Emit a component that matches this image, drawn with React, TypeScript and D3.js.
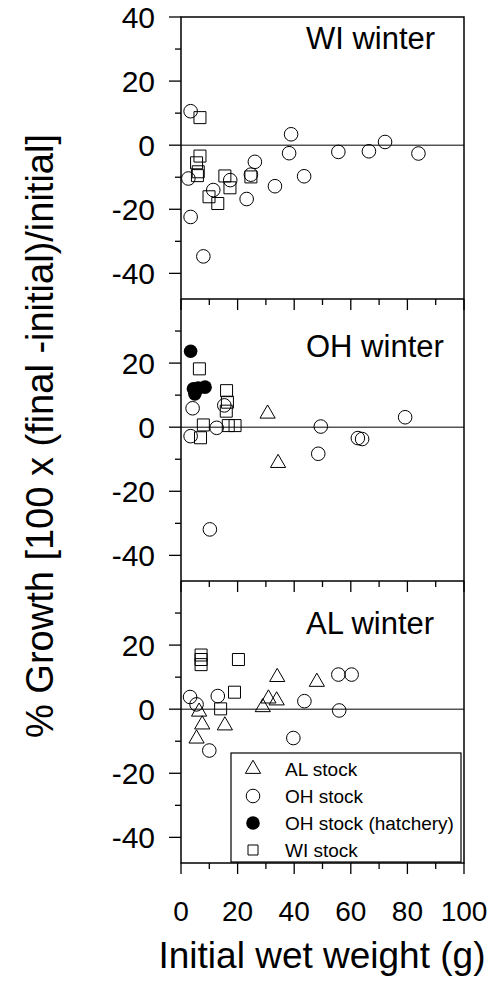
import React from 'react';
import * as d3 from 'd3';

type Pt = [number, number];

// [initial wet weight (g), % growth]
const wiWinterOH: Pt[] = [
	[3.4, 10.6], [2.6, -10.4], [3.4, -22.4], [7.9, -34.7], [11.4, -14], [17.4, -10.9],
	[23.2, -16.8], [24.7, -9.2], [26.1, -5.2], [33.2, -12.8], [38.2, -2.5], [38.9, 3.4],
	[43.5, -9.7], [55.6, -2.1], [66.4, -1.9], [72.1, 1.0], [83.9, -2.6],
];
const wiWinterWI: Pt[] = [
	[6.7, 8.6], [6.7, -3.4], [5.5, -5.5], [6.1, -8.3], [5.8, -9.5], [9.9, -16.1],
	[13, -18.2], [15.5, -9.6], [17.3, -13.3], [24.7, -9.9],
];

const ohWinterAL: Pt[] = [[30.6, 4.2], [34.3, -11.2]];
const ohWinterOH: Pt[] = [
	[4.1, 5.9], [3.4, -2.8], [12.6, -0.2], [15.3, 6.8], [10.2, -31.9], [49.4, 0.2],
	[48.5, -8.3], [62.5, -3.4], [64, -3.7], [79.2, 3.1],
];
const ohWinterHatchery: Pt[] = [[3.4, 23.7], [4.4, 12], [6.1, 12.2], [8.5, 12.5], [4.9, 10.4]];
const ohWinterWI: Pt[] = [
	[6.5, 18.2], [7.9, 0.7], [6.9, -3.3], [16.1, 11.4], [16.4, 7.8], [16.0, 5.0],
	[16.7, 0.5], [19.1, 0.5],
];

const alWinterAL: Pt[] = [
	[6.4, -0.8], [7.5, -4.8], [5.5, -9.2], [15.5, -5.1], [34, 10], [28.9, 0.6],
	[30.9, 3.3], [33.8, 2.7], [48, 8.5],
];
const alWinterOH: Pt[] = [
	[3.2, 3.8], [5.5, 1.5], [13, 4.1], [10, -12.9], [43.6, 2.5], [39.7, -9],
	[55.9, -0.4], [55.6, 10.8], [60.3, 10.8],
];
const alWinterWI: Pt[] = [[7.1, 16.9], [7.1, 15.5], [7.1, 13.9], [20.3, 15.5], [18.9, 5.3], [14, 0.1]];

const panelTitles = ['WI winter', 'OH winter', 'AL winter'];
const panelData = [
	{ al: [] as Pt[], oh: wiWinterOH, hatch: [] as Pt[], wi: wiWinterWI },
	{ al: ohWinterAL, oh: ohWinterOH, hatch: ohWinterHatchery, wi: ohWinterWI },
	{ al: alWinterAL, oh: alWinterOH, hatch: [] as Pt[], wi: alWinterWI },
];
const legendLabels = ['AL stock', 'OH stock', 'OH stock (hatchery)', 'WI stock'];
const yLabels = [40, 20, 0, -20, -40];
const xLabels = [0, 20, 40, 60, 80, 100];

const font = 'Liberation Sans, Arial, sans-serif';
const L = 181, R = 464, T = 17, PH = 282;
const titleOffset = [32, 58, 53];

const x = d3.scaleLinear().domain([0, 100]).range([L, R]);

const tri = d3.symbol().type(d3.symbolTriangle).size(100)();
const sq = d3.symbol().type(d3.symbolSquare).size(144)();
const sqSmall = d3.symbol().type(d3.symbolSquare).size(100)();

const Marker = ({ kind, cx, cy, small }) => {
	if (kind === 'al') return <path d={tri} transform={`translate(${cx},${cy})`} fill="none" stroke="#000" strokeWidth={1} />;
	if (kind === 'wi') return <path d={small ? sqSmall : sq} transform={`translate(${cx},${cy})`} fill="none" stroke="#000" strokeWidth={1} />;
	if (kind === 'hatch') return <circle cx={cx} cy={cy} r={6.8} fill="#000" />;
	return <circle cx={cx} cy={cy} r={6.8} fill="none" stroke="#000" strokeWidth={1} />;
};

const Panel = ({ i }) => {
	const top = T + i * PH;
	const y = d3.scaleLinear().domain([-48, 40]).range([top + PH, top]);
	const d = panelData[i];
	const yt = d3.range(-40, 41, 10).filter((v) => i === 0 || v < 40);
	return (
		<g>
			<line x1={L} x2={R} y1={y(0)} y2={y(0)} stroke="#000" strokeWidth={1} />
			{yt.map((v) => (
				<line key={v} x1={L} x2={L - (v % 20 === 0 ? 12 : 6)} y1={y(v)} y2={y(v)} stroke="#000" strokeWidth={1.3} />
			))}
			{yLabels.filter((v) => i === 0 || v < 40).map((v) => (
				<text key={v} x={155} y={y(v)} dy="0.36em" textAnchor="end" fontSize={30} fontFamily={font}>{v}</text>
			))}
			{i > 0 && d3.range(0, 101, 10).map((v) => (
				<line key={v} x1={x(v)} x2={x(v)} y1={top} y2={top + (v % 20 === 0 ? 11 : 6)} stroke="#000" strokeWidth={1.3} />
			))}
			<text x={306} y={top + titleOffset[i]} fontSize={31} fontFamily={font}>{panelTitles[i]}</text>
			{d.wi.map((p, k) => <Marker key={'w' + k} kind="wi" cx={x(p[0])} cy={y(p[1])} />)}
			{d.oh.map((p, k) => <Marker key={'o' + k} kind="oh" cx={x(p[0])} cy={y(p[1])} />)}
			{d.al.map((p, k) => <Marker key={'a' + k} kind="al" cx={x(p[0])} cy={y(p[1])} />)}
			{d.hatch.map((p, k) => <Marker key={'h' + k} kind="hatch" cx={x(p[0])} cy={y(p[1])} />)}
		</g>
	);
};

export default function App() {
	const bottom = T + 3 * PH;
	const kinds = ['al', 'oh', 'hatch', 'wi'];
	return (
		<svg width={492} height={988} style={{ position: 'absolute', left: 0, top: 0, background: '#fff' }}>
			{[0, 1, 2].map((i) => <Panel key={i} i={i} />)}
			{[1, 2].map((i) => (
				<line key={i} x1={L} x2={R} y1={T + i * PH} y2={T + i * PH} stroke="#000" strokeWidth={1.3} />
			))}
			<rect x={L} y={T} width={R - L} height={bottom - T} fill="none" stroke="#000" strokeWidth={1.5} />
			{d3.range(0, 101, 10).map((v) => (
				<line key={v} x1={x(v)} x2={x(v)} y1={bottom} y2={bottom + (v % 20 === 0 ? 11 : 6)} stroke="#000" strokeWidth={1.3} />
			))}
			{xLabels.map((v) => (
				<text key={v} x={x(v)} y={921} textAnchor="middle" fontSize={28} fontFamily={font}>{v}</text>
			))}
			<text x={322} y={968} textAnchor="middle" fontSize={37} fontFamily={font}>Initial wet weight (g)</text>
			<text transform="translate(53,436) rotate(-90)" textAnchor="middle" fontSize={38} fontFamily={font}>
				% Growth [100 x (final -initial)/initial]
			</text>
			<g>
				<rect x={231} y={753} width={230} height={109} fill="#fff" stroke="#000" strokeWidth={1.2} />
				{legendLabels.map((s, k) => (
					<g key={s}>
						<Marker kind={kinds[k]} cx={253} cy={769 + k * 27} small />
						<text x={285} y={769 + k * 27} dy="0.36em" fontSize={19} fontFamily={font}>{s}</text>
					</g>
				))}
			</g>
		</svg>
	);
}
